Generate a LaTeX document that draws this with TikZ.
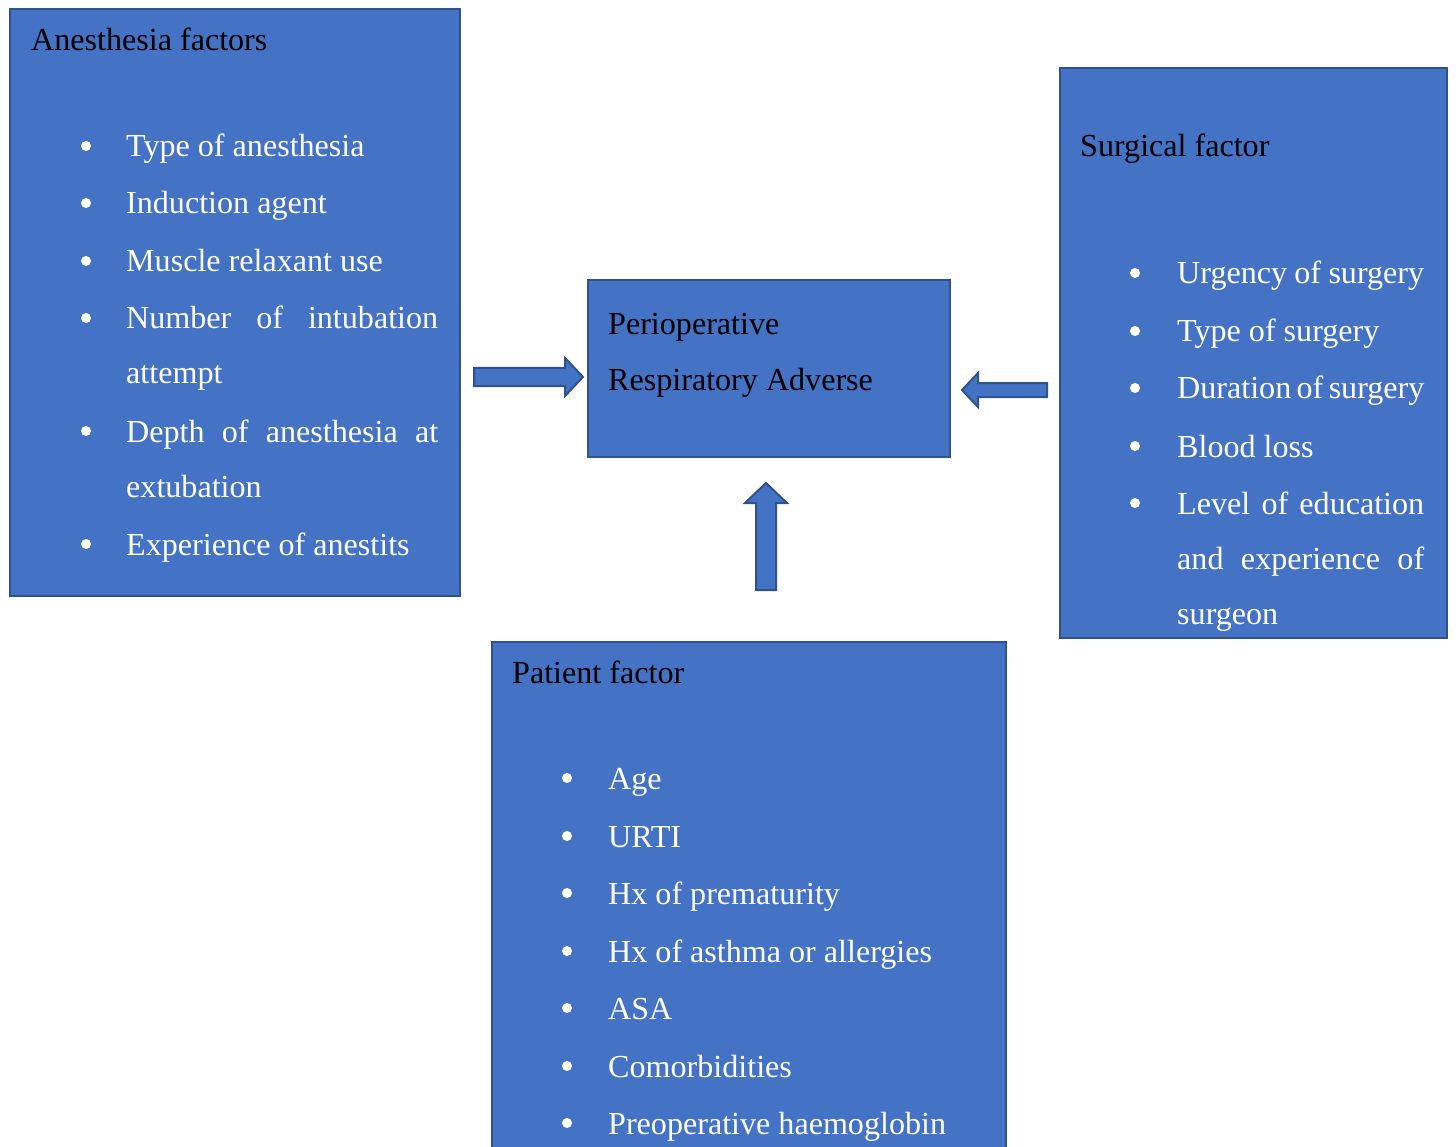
\documentclass[tikz,border=0pt]{standalone}
\usepackage{fontspec}
\setmainfont{Liberation Serif}
\definecolor{boxfill}{HTML}{4472C4}
\definecolor{boxline}{HTML}{2F528F}
\begin{document}
\begin{tikzpicture}[x=1pt,y=-1pt,
  box/.style={draw=boxline, fill=boxfill, line width=2pt, anchor=north west, inner sep=0pt},
  blockarrow/.style={draw=boxline, fill=boxfill, line width=2pt, line join=miter},
  ttl/.style={anchor=base west, inner sep=0pt, text=black, font=\fontsize{32.1}{38}\selectfont},
  itm/.style={anchor=base west, inner sep=0pt, text=white, font=\fontsize{32.1}{38}\selectfont},
  bul/.style={circle, fill=white, inner sep=0pt, minimum size=10pt}]
\useasboundingbox (0,0) rectangle (1456,1147);
\fill[white] (0,0) rectangle (1456,1147);
% boxes
\node[box, minimum width=450pt, minimum height=586pt] (anes) at (8.5,8.5) {};
\node[box, minimum width=362pt, minimum height=176pt] (center) at (586.5,279.5) {};
\node[box, minimum width=387pt, minimum height=569pt] (surg) at (1058.5,67.5) {};
\node[box, minimum width=514pt, minimum height=520pt] (pat) at (490.5,640.5) {};
% block arrows
\draw[blockarrow] (474,368) -- (565,368) -- (565,358) -- (583,377) -- (565,396) -- (565,386) -- (474,386) -- cycle;
\draw[blockarrow] (1047,383) -- (978,383) -- (978,373) -- (962,390) -- (978,407) -- (978,397) -- (1047,397) -- cycle;
\draw[blockarrow] (756,590) -- (756,503) -- (745,503) -- (766,483) -- (787,503) -- (776,503) -- (776,590) -- cycle;
% anesthesia text
\node[ttl] (t1) at (31,51) {Anesthesia factors};
\foreach \y/\name in {146/a1,203/a2,261/a3,318/a4,431/a6,544/a8} {\node[bul] (b\name) at (86,\y) {};}
\node[itm] (a1) at (126,157) {Type of anesthesia};
\node[itm] (a2) at (126,214) {Induction agent};
\node[itm] (a3) at (126,272) {Muscle relaxant use};
\node[itm] (a4) at (126,329) {\makebox[312pt][s]{Number of intubation}};
\node[itm] (a5) at (126,384) {attempt};
\node[itm] (a6) at (126,442) {\makebox[312pt][s]{Depth of anesthesia at}};
\node[itm] (a7) at (126,497) {extubation};
\node[itm] (a8) at (126,555) {Experience of anestits};
% center text
\node[ttl] (c1) at (608,335) {Perioperative};
\node[ttl] (c2) at (608,390) {Respiratory Adverse};
% surgical text
\node[ttl] (t2) at (1080,157) {Surgical factor};
\foreach \y/\name in {273/s1,331/s2,388/s3,446/s4,503/s5} {\node[bul] (b\name) at (1135,\y) {};}
\node[itm] (s1) at (1177,284) {\makebox[247pt][s]{Urgency of surgery}};
\node[itm] (s2) at (1177,342) {Type of surgery};
\node[itm] (s3) at (1177,399) {\makebox[247pt][s]{Duration of surgery}};
\node[itm] (s4) at (1177,457) {Blood loss};
\node[itm] (s5) at (1177,514) {\makebox[247pt][s]{Level of education}};
\node[itm] (s6) at (1177,569) {\makebox[247pt][s]{and experience of}};
\node[itm] (s7) at (1177,624) {surgeon};
% patient text
\node[ttl] (t3) at (512,683) {Patient factor};
\foreach \y/\name in {778/p1,836/p2,893/p3,951/p4,1008/p5,1066/p6,1123/p7} {\node[bul] (b\name) at (567,\y) {};}
\node[itm] (p1) at (608,789) {Age};
\node[itm] (p2) at (608,847) {URTI};
\node[itm] (p3) at (608,904) {Hx of prematurity};
\node[itm] (p4) at (608,962) {Hx of asthma or allergies};
\node[itm] (p5) at (608,1019) {ASA};
\node[itm] (p6) at (608,1077) {Comorbidities};
\node[itm] (p7) at (608,1134) {Preoperative haemoglobin};
\end{tikzpicture}
\end{document}
